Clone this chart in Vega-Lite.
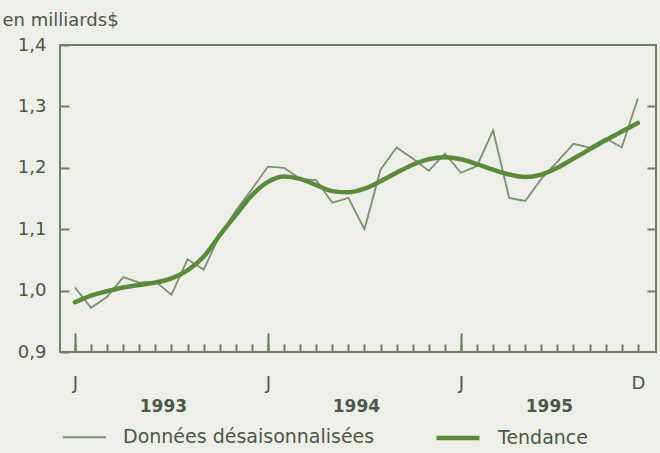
{
  "$schema": "https://vega.github.io/schema/vega-lite/v6.json",
  "width": 596,
  "height": 307,
  "autosize": {"type": "none"},
  "padding": {"left": 60, "top": 45, "right": 4, "bottom": 101},
  "background": "#efefe9",
  "config": {
    "font": "DejaVu Sans",
    "view": {"stroke": "#6f7f63", "strokeWidth": 2},
    "axis": {"labelColor": "#4d5748", "titleColor": "#4d5748", "tickColor": "#6f7f63", "tickWidth": 2, "domain": false, "labelFontSize": 18, "labelFont": "DejaVu Sans"},
    "legend": {"labelFontSize": 19, "labelColor": "#4d5748", "labelFont": "DejaVu Sans", "labelLimit": 400}
  },
  "datasets": {
    "series": [
      {"m": 0, "raw": 1.005, "trend": 0.981},
      {"m": 1, "raw": 0.972, "trend": 0.992},
      {"m": 2, "raw": 0.99, "trend": 0.999},
      {"m": 3, "raw": 1.022, "trend": 1.005},
      {"m": 4, "raw": 1.013, "trend": 1.009},
      {"m": 5, "raw": 1.015, "trend": 1.013},
      {"m": 6, "raw": 0.993, "trend": 1.02},
      {"m": 7, "raw": 1.051, "trend": 1.033},
      {"m": 8, "raw": 1.034, "trend": 1.055},
      {"m": 9, "raw": 1.09, "trend": 1.09},
      {"m": 10, "raw": 1.13, "trend": 1.123},
      {"m": 11, "raw": 1.165, "trend": 1.155},
      {"m": 12, "raw": 1.202, "trend": 1.177},
      {"m": 13, "raw": 1.2, "trend": 1.186},
      {"m": 14, "raw": 1.182, "trend": 1.182},
      {"m": 15, "raw": 1.18, "trend": 1.172},
      {"m": 16, "raw": 1.143, "trend": 1.162},
      {"m": 17, "raw": 1.151, "trend": 1.16},
      {"m": 18, "raw": 1.1, "trend": 1.166},
      {"m": 19, "raw": 1.197, "trend": 1.178},
      {"m": 20, "raw": 1.233, "trend": 1.192},
      {"m": 21, "raw": 1.215, "trend": 1.205},
      {"m": 22, "raw": 1.195, "trend": 1.214},
      {"m": 23, "raw": 1.223, "trend": 1.217},
      {"m": 24, "raw": 1.192, "trend": 1.214},
      {"m": 25, "raw": 1.203, "trend": 1.206},
      {"m": 26, "raw": 1.261, "trend": 1.197},
      {"m": 27, "raw": 1.151, "trend": 1.189},
      {"m": 28, "raw": 1.146, "trend": 1.185},
      {"m": 29, "raw": 1.182, "trend": 1.189},
      {"m": 30, "raw": 1.21, "trend": 1.2},
      {"m": 31, "raw": 1.239, "trend": 1.215},
      {"m": 32, "raw": 1.233, "trend": 1.23},
      {"m": 33, "raw": 1.248, "trend": 1.245},
      {"m": 34, "raw": 1.233, "trend": 1.259},
      {"m": 35, "raw": 1.313, "trend": 1.273}
    ],
    "years": [
      {"m": 5.5, "year": "1993"},
      {"m": 17.5, "year": "1994"},
      {"m": 29.5, "year": "1995"}
    ]
  },
  "layer": [
    {
      "data": {"name": "series"},
      "mark": {"type": "line", "interpolate": "linear", "strokeJoin": "miter"},
      "encoding": {
        "x": {"field": "m", "type": "quantitative",
          "scale": {"domain": [-0.93, 36.13], "nice": false, "zero": false},
          "axis": {"orient": "bottom", "title": null, "values": [0,1,2,3,4,5,6,7,8,9,10,11,12,13,14,15,16,17,18,19,20,21,22,23,24,25,26,27,28,29,30,31,32,33,34,35],
            "tickSize": -8, "labelPadding": 30,
            "labelExpr": "datum.value == 35 ? 'D' : (datum.value % 12 == 0 ? 'J' : '')",
            "grid": true, "gridColor": "#66785a", "gridWidth": 2, "gridDash": [0, 288, 19, 1000],
            "gridOpacity": {"condition": {"test": "datum.value % 12 == 0", "value": 1}, "value": 0}
          }
        },
        "y": {"field": "raw", "type": "quantitative",
          "scale": {"domain": [0.9, 1.4], "nice": false, "zero": false},
          "axis": {"orient": "left", "values": [0.9, 1.0, 1.1, 1.2, 1.3, 1.4], "tickSize": -9, "labelPadding": 23, "grid": false,
            "labelExpr": "replace(format(datum.value, '.1f'), '.', ',')",
            "title": "en milliards$", "titleAngle": 0, "titleAlign": "left", "titleBaseline": "middle", "titleX": -58, "titleY": -25, "titleFontSize": 18, "titleFontWeight": "normal", "titleFont": "DejaVu Sans"
          }
        },
        "color": {"datum": "Données désaisonnalisées", "type": "nominal",
          "scale": {"domain": ["Données désaisonnalisées", "Tendance"], "range": ["#7b9070", "#5c8a3d"]},
          "legend": {"title": null, "orient": "none", "direction": "horizontal", "legendX": 2, "legendY": 369, "symbolType": "stroke", "symbolSize": 1849, "labelOffset": 16, "columnPadding": 52}
        },
        "strokeWidth": {"datum": "Données désaisonnalisées", "type": "nominal",
          "scale": {"domain": ["Données désaisonnalisées", "Tendance"], "range": [1.8, 4.5]},
          "legend": {"title": null, "orient": "none", "direction": "horizontal", "legendX": 2, "legendY": 369, "symbolType": "stroke", "symbolSize": 1849, "labelOffset": 16, "columnPadding": 52}
        }
      }
    },
    {
      "data": {"name": "series"},
      "mark": {"type": "line", "interpolate": "monotone", "strokeCap": "round"},
      "encoding": {
        "x": {"field": "m", "type": "quantitative", "axis": null},
        "y": {"field": "trend", "type": "quantitative", "axis": null},
        "color": {"datum": "Tendance", "type": "nominal"},
        "strokeWidth": {"datum": "Tendance", "type": "nominal"}
      }
    },
    {
      "data": {"name": "years"},
      "mark": {"type": "text", "fontWeight": "bold", "fontSize": 17, "dy": 55, "baseline": "middle", "align": "center", "color": "#4d5748", "font": "DejaVu Sans"},
      "encoding": {
        "x": {"field": "m", "type": "quantitative", "axis": null},
        "y": {"datum": 0.9, "type": "quantitative",
          "axis": {"orient": "right", "values": [1.0, 1.1, 1.2, 1.3], "tickSize": -9, "labels": false, "title": null, "grid": false}
        },
        "text": {"field": "year"}
      }
    }
  ],
  "resolve": {"axis": {"x": "independent", "y": "independent"}}
}
